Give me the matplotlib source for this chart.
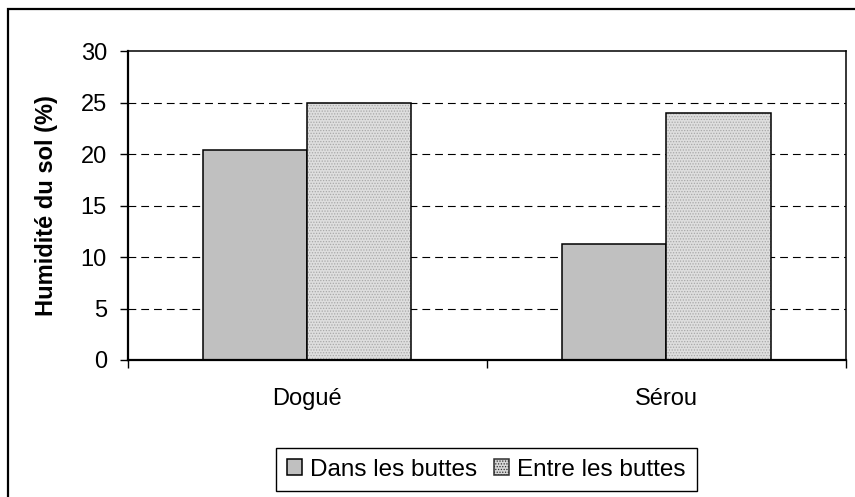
import numpy as np
import matplotlib
matplotlib.use("Agg")
import matplotlib.pyplot as plt
from matplotlib.patches import Rectangle

# Humidité du sol : dans les buttes / entre les buttes
sites = ["Dogué", "Sérou"]
dans_buttes = [20.4, 11.3]
entre_buttes = [25.0, 24.0]
series_labels = ["Dans les buttes", "Entre les buttes"]
y_ticks = [0, 5, 10, 15, 20, 25, 30]

plt.rcParams['font.family'] = ['Liberation Sans', 'DejaVu Sans']
plt.rcParams['font.size'] = 17
plt.rcParams['hatch.linewidth'] = 0.6

fig = plt.figure(figsize=(8.55, 4.97), dpi=100)
ax = fig.add_axes([0.1494, 0.2757, 0.8401, 0.6207])

x = np.arange(len(sites))
w = 0.29

ax.bar(x - w / 2, dans_buttes, w, color="#c0c0c0", edgecolor="black", linewidth=1.1, zorder=3,
       label=series_labels[0])
# fond pointillé puis contour noir
ax.bar(x + w / 2, entre_buttes, w, color="#dedede", edgecolor="#a8a8a8", hatch="......",
       linewidth=0, zorder=3)
ax.bar(x + w / 2, entre_buttes, w, fill=False, edgecolor="black", linewidth=1.1, zorder=4)
# poignée de légende pour la série pointillée
ax.bar([0], [0], 0, color="#d8d8d8", edgecolor="#303030", linewidth=1.1, hatch="......",
       label=series_labels[1])

ax.set_xlim(-0.5, len(sites) - 0.5)
ax.set_ylim(0, 30)
ax.set_yticks(y_ticks)
ax.tick_params(axis='y', direction='out', length=6, width=1, pad=9)

ax.set_xticks(np.arange(len(sites) + 1) - 0.5)
ax.set_xticklabels([])
ax.set_xticks(x, minor=True)
ax.set_xticklabels(sites, minor=True)
ax.tick_params(axis='x', which='major', direction='out', length=6, width=1)
ax.tick_params(axis='x', which='minor', length=0, pad=20)

for yv in y_ticks[1:-1]:
    ax.axhline(yv, color="black", linewidth=0.8, linestyle=(0, (7, 4.5)), zorder=1)

for s in ['left', 'bottom']:
    ax.spines[s].set_linewidth(1.6)
for s in ['top', 'right']:
    ax.spines[s].set_linewidth(1.1)
ax.spines['bottom'].set_zorder(5)

ax.set_ylabel("Humidité du sol (%)", fontweight='bold', labelpad=16)

leg = fig.legend(loc='center', bbox_to_anchor=(0.569, 0.0553), ncol=2, fancybox=False,
                 edgecolor='black', framealpha=1, fontsize=17.5, handlelength=0.6,
                 handleheight=0.6, handletextpad=0.35, columnspacing=0.7, borderpad=0.45,
                 borderaxespad=0)
leg.get_frame().set_linewidth(1.0)

# cadre extérieur du graphique
fig.patches.append(Rectangle((8 / 855, -0.05), 1.2, 1 - 9 / 497 + 0.05, transform=fig.transFigure,
                             fill=False, edgecolor="black", linewidth=1.6))

fig.savefig("out.png", dpi=100)
